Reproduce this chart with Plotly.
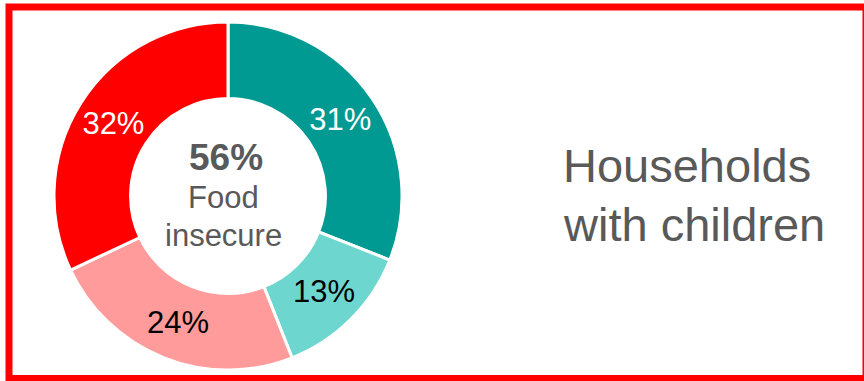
import plotly.graph_objects as go

# Share of households with children by food security status
categories = ["Low food security", "Very low food security", "Marginal", "High"]
shares = [31, 13, 24, 32]
slice_colors = ["#009a92", "#6dd7cf", "#ff9b9b", "#ff0000"]
label_colors = ["#ffffff", "#000000", "#000000", "#ffffff"]
center_value = "56%"
center_label = ["Food", "insecure"]
group_title = ["Households", "with children"]

W, H = 864, 381
cx, cy, r = 228, 196, 174

fig = go.Figure(
    go.Pie(
        labels=categories,
        values=shares,
        sort=False,
        direction="clockwise",
        rotation=0,
        hole=0.56,
        marker=dict(colors=slice_colors, line=dict(color="#ffffff", width=3)),
        texttemplate="%{value}%",
        textposition="inside",
        insidetextorientation="horizontal",
        textfont=dict(family="Liberation Sans, Arial", size=31, color=label_colors),
        hoverinfo="label+percent",
        showlegend=False,
        domain=dict(
            x=[(cx - r) / W, (cx + r) / W],
            y=[(H - cy - r) / H, (H - cy + r) / H],
        ),
    )
)

gray = "#595959"
font = "Liberation Sans, Arial"
annotations = [
    dict(x=(cx - 2) / W, y=1 - 157 / H, text=f"<b>{center_value}</b>", xanchor="center",
         font=dict(family=font, size=37, color=gray)),
    dict(x=(cx - 5) / W, y=1 - 197 / H, text=center_label[0], xanchor="center",
         font=dict(family=font, size=31, color=gray)),
    dict(x=(cx - 5) / W, y=1 - 235 / H, text=center_label[1], xanchor="center",
         font=dict(family=font, size=31, color=gray)),
    dict(x=561 / W, y=1 - 165 / H, text=group_title[0], xanchor="left",
         font=dict(family=font, size=47, color=gray)),
    dict(x=561 / W, y=1 - 224 / H, text=group_title[1], xanchor="left",
         font=dict(family=font, size=47, color=gray)),
]
for a in annotations:
    a.update(xref="paper", yref="paper", showarrow=False, yanchor="middle")

fig.update_layout(
    width=W,
    height=H,
    margin=dict(l=0, r=0, t=0, b=0),
    paper_bgcolor="#ffffff",
    plot_bgcolor="#ffffff",
    annotations=annotations,
    shapes=[
        dict(type="rect", xref="paper", yref="paper",
             x0=9 / W, x1=866 / W, y0=1 - 378.5 / H, y1=1 - 7 / H,
             line=dict(color="#ff0000", width=7), fillcolor="rgba(0,0,0,0)")
    ],
)

fig.write_html("out.html", config=dict(displayModeBar=False))
